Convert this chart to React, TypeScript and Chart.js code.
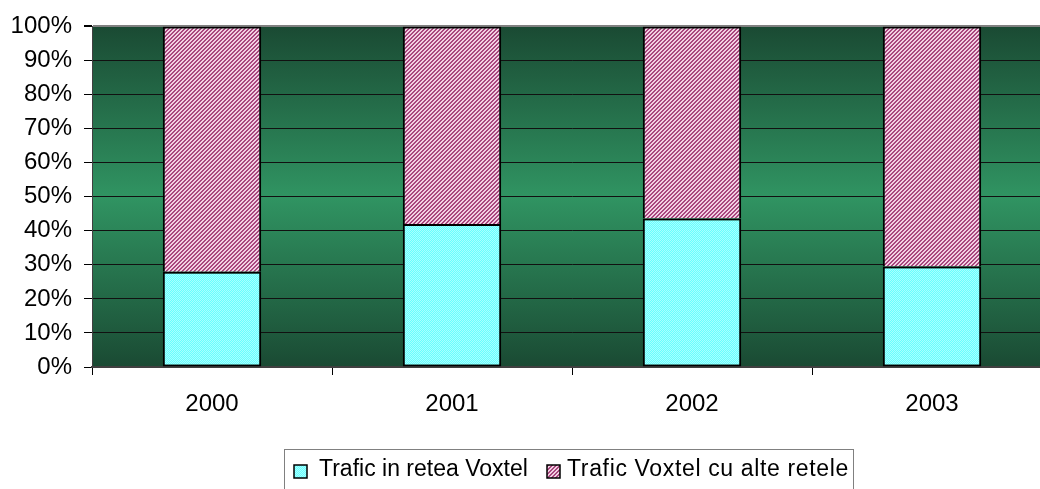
import React, { useEffect, useRef } from "react";
import { Chart, registerables } from "chart.js";

Chart.register(...registerables);

const years = ["2000", "2001", "2002", "2003"];
const inNetwork = [28, 42, 43.6, 29.5];
const otherNetworks = [72, 58, 56.4, 70.5];
const seriesNames = ["Trafic in retea Voxtel", "Trafic Voxtel cu alte retele"];
const yTicks = [0, 10, 20, 30, 40, 50, 60, 70, 80, 90, 100];

const FONT = '"Liberation Sans", Arial, sans-serif';

function makePattern(kind: "cyan" | "pink"): CanvasPattern | string {
  const c = document.createElement("canvas");
  c.width = 4;
  c.height = 4;
  const ctx = c.getContext("2d");
  if (!ctx) return kind === "cyan" ? "#88ffff" : "#cc88aa";
  for (let y = 0; y < 4; y++) {
    for (let x = 0; x < 4; x++) {
      let col: string;
      if (kind === "cyan") {
        col = (x + y) % 2 === 0 ? "#a8ffff" : "#66ffff";
      } else {
        col = (x + y) % 4 < 2 ? "#a8467e" : "#f2cfe2";
      }
      ctx.fillStyle = col;
      ctx.fillRect(x, y, 1, 1);
    }
  }
  const p = ctx.createPattern(c, "repeat");
  return p || "#88ffff";
}

export default function App() {
  const ref = useRef<HTMLCanvasElement | null>(null);

  useEffect(() => {
    if (!ref.current) return;
    const cyan = makePattern("cyan");
    const pink = makePattern("pink");

    const bgPlugin = {
      id: "bgGradient",
      beforeDraw(chart: any) {
        const { ctx, chartArea } = chart;
        const g = ctx.createLinearGradient(0, chartArea.top, 0, chartArea.bottom);
        g.addColorStop(0, "#1a4a33");
        g.addColorStop(0.5, "#309462");
        g.addColorStop(1, "#1a4a33");
        ctx.save();
        ctx.fillStyle = g;
        ctx.fillRect(chartArea.left, chartArea.top, chartArea.right - chartArea.left, chartArea.bottom - chartArea.top);
        ctx.restore();
      },
    };

    const legendPlugin = {
      id: "boxLegend",
      afterDraw(chart: any) {
        const ctx = chart.ctx;
        ctx.save();
        ctx.font = `23px ${FONT}`;
        const left = 284;
        const right = 853;
        const top = 449;
        ctx.strokeStyle = "#808080";
        ctx.lineWidth = 1;
        ctx.strokeRect(left + 0.5, top + 0.5, right - left, 60);
        const fills = [cyan, pink];
        const markerX = [294, 547];
        const textX = [319, 567];
        const spacing = ["0px", "0.65px"];
        for (let i = 0; i < 2; i++) {
          ctx.fillStyle = fills[i];
          ctx.fillRect(markerX[i], 465, 13, 13);
          ctx.strokeStyle = "#000";
          ctx.lineWidth = 1.5;
          ctx.strokeRect(markerX[i], 465, 13, 13);
          ctx.fillStyle = "#000";
          ctx.textBaseline = "alphabetic";
          (ctx as any).letterSpacing = spacing[i];
          ctx.fillText(seriesNames[i], textX[i], 476);
        }
        ctx.restore();
      },
    };

    const chart = new Chart(ref.current, {
      type: "bar",
      data: {
        labels: years,
        datasets: [
          {
            label: seriesNames[0],
            data: inNetwork,
            backgroundColor: cyan as any,
            borderColor: "#000",
            borderWidth: 2,
            borderSkipped: false,
            categoryPercentage: 1,
            barPercentage: 0.41,
          },
          {
            label: seriesNames[1],
            data: otherNetworks,
            backgroundColor: pink as any,
            borderColor: "#000",
            borderWidth: 2,
            borderSkipped: "start",
            categoryPercentage: 1,
            barPercentage: 0.41,
          },
        ],
      },
      options: {
        responsive: false,
        animation: false,
        layout: { padding: { top: 24, right: 8, left: 0, bottom: 0 } },
        plugins: {
          legend: { display: false },
          tooltip: { enabled: false },
        },
        scales: {
          x: {
            stacked: true,
            offset: true,
            grid: {
              offset: true,
              drawOnChartArea: false,
              drawTicks: true,
              tickLength: 8,
              color: "#000",
            },
            border: { display: true, color: "#404040", width: 2 },
            ticks: {
              color: "#000",
              font: { family: FONT, size: 24 },
              padding: 15,
              maxRotation: 0,
            },
            afterFit(scale: any) {
              scale.height = 122;
            },
          },
          y: {
            stacked: true,
            min: 0,
            max: 100,
            afterBuildTicks(scale: any) {
              scale.ticks = yTicks.map((v) => ({ value: v }));
            },
            grid: {
              color: (c: any) =>
                c.tick && c.tick.value === 100 ? "#808080" : c.tick && c.tick.value === 0 ? "rgba(0,0,0,0)" : "#111",
              lineWidth: (c: any) => (c.tick && c.tick.value === 100 ? 2 : 1),
              tickColor: "#000",
              tickLength: 8,
            },
            border: { display: true, color: "#404040", width: 1 },
            ticks: {
              color: "#000",
              font: { family: FONT, size: 24 },
              padding: 12,
              callback: (v: any) => `${v}%`,
            },
            afterFit(scale: any) {
              scale.width = 92;
            },
          },
        },
      },
      plugins: [bgPlugin, legendPlugin],
    });
    return () => chart.destroy();
  }, []);

  return (
    <div
      style={{
        position: "fixed",
        left: 0,
        top: 0,
        width: 1040,
        height: 489,
        overflow: "hidden",
        background: "#fff",
      }}
    >
      <canvas ref={ref} width={1060} height={489} style={{ display: "block" }} />
    </div>
  );
}
